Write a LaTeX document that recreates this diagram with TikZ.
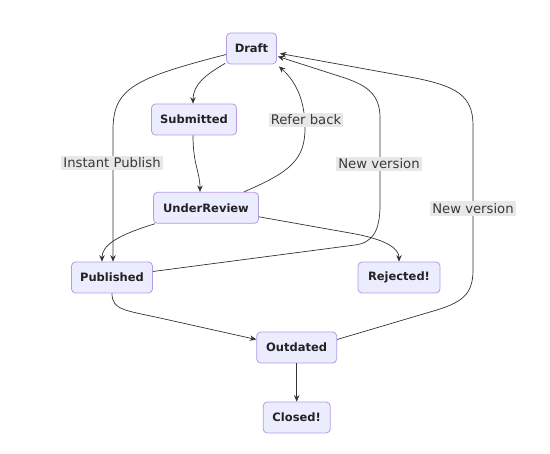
\documentclass[tikz,border=0pt]{standalone}
\usepackage{fontspec}
\setmainfont{DejaVu Sans}
\usetikzlibrary{arrows.meta}
\definecolor{nodefill}{HTML}{ECECFF}
\definecolor{nodeline}{HTML}{9370DB}
\definecolor{edgecol}{HTML}{333333}
\definecolor{lblfill}{HTML}{E8E8E8}
\definecolor{txt}{HTML}{222222}
\begin{document}
\begin{tikzpicture}[x=1pt,y=-1pt,
  state/.style={draw=nodeline!70, fill=nodefill, rounded corners=4pt, line width=0.8pt,
    inner sep=0pt, font=\fontsize{11.5}{13}\selectfont\bfseries, text=txt},
  edge/.style={draw=edgecol, line width=0.7pt, -{Stealth[length=6.5pt,width=5.5pt,inset=2.2pt]}},
  lbl/.style={fill=lblfill, inner sep=2pt, font=\fontsize{13.2}{15}\selectfont, text=txt!90}]
\useasboundingbox (0,0) rectangle (550,454);
\node[state, minimum width=50pt, minimum height=31pt] (draft) at (251.5,48.5) {Draft};
\node[state, minimum width=85pt, minimum height=31pt] (sub) at (194,119.5) {Submitted};
\node[state, minimum width=105pt, minimum height=31pt] (ur) at (206,207.8) {UnderReview};
\node[state, minimum width=81pt, minimum height=31pt] (pub) at (112,277.5) {Published};
\node[state, minimum width=82pt, minimum height=31pt] (rej) at (399,277.5) {Rejected!};
\node[state, minimum width=80pt, minimum height=31pt] (out) at (296.7,347.5) {Outdated};
\node[state, minimum width=67pt, minimum height=31pt] (clo) at (296.7,417.5) {Closed!};

% Draft -> Submitted
\draw[edge] ([xshift=-1pt,yshift=1pt]draft.south west) .. controls (205,75) and (193,85) .. (sub.north -| 193,0);
% Draft -> Published (Instant Publish)
\draw[edge] ([yshift=-6pt]draft.west) .. controls (135,78) and (113,88) .. (113,130) -- (pub.north -| 113,0);
% Submitted -> UnderReview
\draw[edge] (sub.south -| 193,0) .. controls (193,165) and (200,172) .. (ur.north -| 200,0);
% UnderReview -> Draft (Refer back)
\draw[edge] ([xshift=-15pt]ur.north east) .. controls (290,172) and (305,160) .. (305,128) .. controls (305,95) and (292,78) .. ([xshift=2pt,yshift=-2pt]draft.south east);
% UnderReview -> Published
\draw[edge] ([xshift=2pt]ur.south west) .. controls (118,235) and (102,245) .. (pub.north -| 102,0);
% UnderReview -> Rejected
\draw[edge] ([yshift=-9pt]ur.east) -- (350,233) .. controls (385,239) and (399,248) .. (rej.north);
% Published -> Draft (New version, 1)
\draw[edge] ([yshift=6pt]pub.east) -- (355,245) .. controls (372,242.8) and (380,232) .. (380,205) -- (380,118) .. controls (380,95) and (368,86) .. (345,78) -- ([xshift=1pt,yshift=-8pt]draft.east);
% Outdated -> Draft (New version, 2)
\draw[edge] ([yshift=8pt]out.east) -- (430,312) .. controls (462,303) and (473,295) .. (473,270) -- (473,125) .. controls (473,95) and (455,86) .. (415,78) -- ([xshift=3pt,yshift=-5pt]draft.east);
% Published -> Outdated
\draw[edge] (pub.south) .. controls (112,310) and (125,310.3) .. (160,318) -- ([yshift=8pt]out.west);
% Outdated -> Closed
\draw[edge] (out.south) -- (clo.north);

\node[lbl] (l1) at (112,163) {Instant Publish};
\node[lbl] (l2) at (306,120) {Refer back};
\node[lbl] (l3) at (379,164) {New version};
\node[lbl] (l4) at (473,208.5) {New version};
\end{tikzpicture}
\end{document}
